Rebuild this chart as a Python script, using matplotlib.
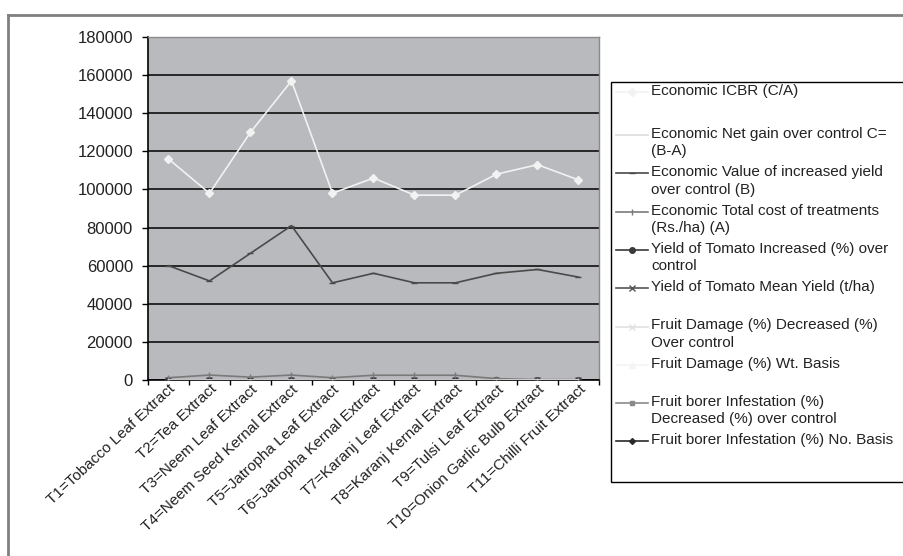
import matplotlib.pyplot as plt
from matplotlib.lines import Line2D
from matplotlib.patches import Rectangle

plt.rcParams["font.family"] = ["Liberation Sans", "DejaVu Sans"]

# Treatments on the x axis
TREATMENTS = [
    "T1=Tobacco Leaf Extract",
    "T2=Tea Extract",
    "T3=Neem Leaf Extract",
    "T4=Neem Seed Kernal Extract",
    "T5=Jatropha Leaf Extract",
    "T6=Jatropha Kernal Extract",
    "T7=Karanj Leaf Extract",
    "T8=Karanj Kernal Extract",
    "T9=Tulsi Leaf Extract",
    "T10=Onion Garlic Bulb Extract",
    "T11=Chilli Fruit Extract",
]

# Series values
icbr = [116000, 98000, 130000, 157000, 98000, 106000, 97000, 97000, 108000, 113000, 105000]
net_gain = [4, 3, 4, 5, 3, 3, 3, 3, 3, 3, 3]
value_increase = [60000, 52000, 66500, 81000, 51000, 56000, 51000, 51000, 56000, 58000, 54000]
total_cost = [1200, 2600, 1500, 2600, 1200, 2500, 2500, 2500, 700, 200, 200]
yield_increase = [35, 28, 40, 52, 25, 33, 27, 27, 31, 32, 30]
mean_yield = [22, 21, 23, 25, 20, 21, 20, 20, 21, 21, 21]
fd_decrease = [45, 40, 50, 60, 38, 42, 36, 36, 40, 42, 40]
fd_wt = [12, 13, 11, 9, 14, 13, 14, 14, 13, 12, 13]
fb_decrease = [42, 38, 48, 58, 35, 40, 34, 34, 38, 40, 38]
fb_no = [15, 16, 14, 11, 17, 16, 17, 17, 16, 15, 16]

LABELS = [
    "Economic ICBR (C/A)",
    "Economic Net gain over control C=\n(B-A)",
    "Economic Value of increased yield\nover control (B)",
    "Economic Total cost of treatments\n(Rs./ha) (A)",
    "Yield of Tomato Increased (%) over\ncontrol",
    "Yield of Tomato Mean Yield (t/ha)",
    "Fruit Damage (%) Decreased (%)\nOver control",
    "Fruit Damage (%) Wt. Basis",
    "Fruit borer Infestation (%)\nDecreased (%) over control",
    "Fruit borer Infestation (%) No. Basis",
]

# (color, marker, markersize)
STYLES = [
    ("#f2f2f2", "D", 4.5),
    ("#dcdcdc", None, 0),
    ("#4a4a4a", "_", 4),
    ("#7a7a7a", "|", 5),
    ("#3a3a3a", "o", 4),
    ("#555555", "x", 4),
    ("#e2e2e2", "x", 4),
    ("#f4f4f4", "^", 4),
    ("#8a8a8a", "s", 3.5),
    ("#2a2a2a", "D", 3),
]

series = [icbr, net_gain, value_increase, total_cost, yield_increase,
          mean_yield, fd_decrease, fd_wt, fb_decrease, fb_no]

W, H = 904, 556
fig = plt.figure(figsize=(W / 100, H / 100), dpi=100)
ax = fig.add_axes([148 / W, 1 - 380 / H, (599 - 148) / W, (380 - 37) / H])
ax.set_facecolor("#b9babe")

xs = list(range(len(TREATMENTS)))
# draw in reverse order so the first series sits on top
for vals, (c, m, ms) in reversed(list(zip(series, STYLES))):
    ax.plot(xs, vals, color=c, lw=1.2, marker=m, ms=ms, mfc=c, mec=c,
            zorder=3)

ax.set_xlim(-0.5, len(TREATMENTS) - 0.5)
ax.set_ylim(0, 180000)
ax.set_yticks(range(0, 180001, 20000))
ax.set_yticklabels([str(v) for v in range(0, 180001, 20000)], fontsize=12,
                   color="#222222")
ax.yaxis.grid(True, color="black", lw=1.1)
ax.set_axisbelow(True)

ax.set_xticks(xs)
ax.set_xticklabels(TREATMENTS, rotation=43, ha="right", va="top",
                   rotation_mode="anchor", fontsize=11, color="#222222")
ax.set_xticks([x - 0.5 for x in xs] + [xs[-1] + 0.5], minor=True)
ax.tick_params(axis="x", which="major", length=0, pad=1.5)
ax.tick_params(axis="x", which="minor", length=3.6, width=1)
ax.tick_params(axis="y", length=4.3, width=1, pad=6.5)

for side in ("left", "bottom"):
    ax.spines[side].set_color("black")
    ax.spines[side].set_linewidth(1.2)
for side in ("top", "right"):
    ax.spines[side].set_color("#8a8a8a")
    ax.spines[side].set_linewidth(1.0)

# Outer chart border (top and left visible)
fig.add_artist(Line2D([8 / W, 8 / W], [0, 1 - 15 / H], transform=fig.transFigure,
                      color="#808080", lw=2))
fig.add_artist(Line2D([8 / W, 1], [1 - 15 / H, 1 - 15 / H],
                      transform=fig.transFigure, color="#808080", lw=2))

# Legend drawn by hand to follow the original layout
fig.add_artist(Rectangle((611 / W, 1 - 482 / H), (920 - 611) / W, (482 - 82) / H,
                         transform=fig.transFigure, fill=True, fc="white",
                         ec="black", lw=1))
ys = [92] + [135 + i * 38.3 for i in range(len(LABELS) - 1)]
for y, label, (c, m, ms) in zip(ys, LABELS, STYLES):
    fy = 1 - y / H
    fig.add_artist(Line2D([616 / W, 648 / W], [fy, fy], transform=fig.transFigure,
                          color=c, lw=1.2))
    if m is not None:
        fig.add_artist(Line2D([632 / W], [fy], transform=fig.transFigure,
                              color=c, marker=m, ms=ms, mfc=c, mec=c, lw=0))
    fig.text(651 / W, fy + 8 / H, label, fontsize=11, color="#222222",
             ha="left", va="top", linespacing=1.3)

fig.savefig("out.png", dpi=100)
